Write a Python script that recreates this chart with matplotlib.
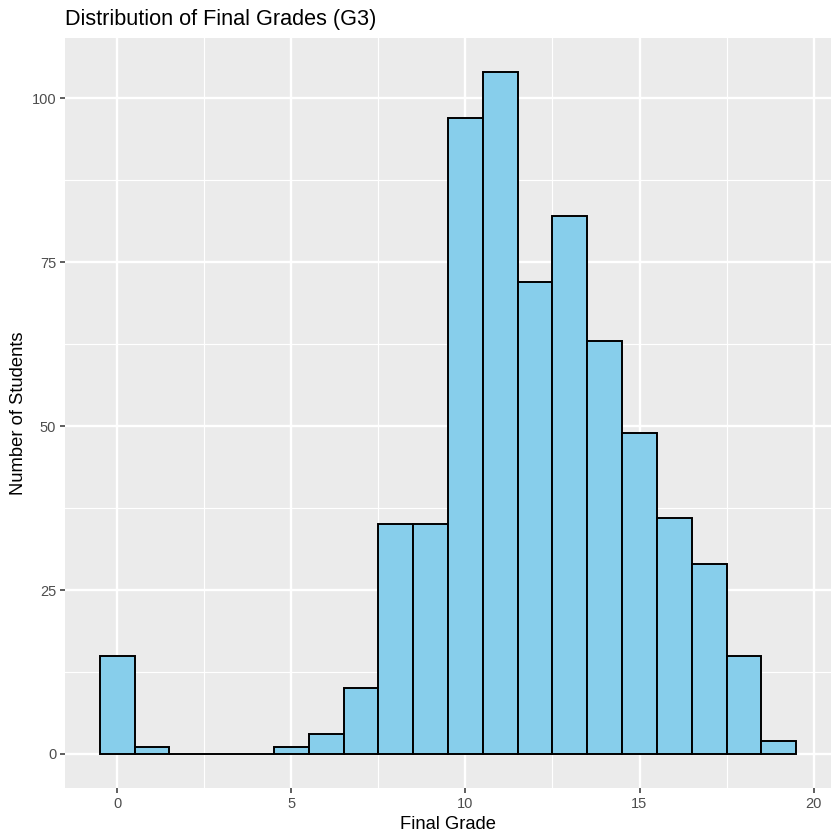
import numpy as np
import matplotlib
matplotlib.use("Agg")
from matplotlib import pyplot as plt

# G3 histogram counts, one bin per grade
grades = list(range(20))
counts = [15, 1, 0, 0, 0, 1, 3, 10, 35, 35, 97, 104, 72, 82, 63, 49, 36, 29, 15, 2]

plt.rcParams['font.family'] = ['Liberation Sans', 'DejaVu Sans']

fig = plt.figure(figsize=(8.4, 8.4), dpi=100)
ax = fig.add_axes([65/840, 52/840, 766/840, 750/840])
ax.set_facecolor('#EBEBEB')
for s in ax.spines.values():
    s.set_visible(False)

ax.set_xlim(-1.5, 20.5)
ax.set_ylim(-5.2, 109.2)
ax.set_xticks([0, 5, 10, 15, 20])
ax.set_yticks([0, 25, 50, 75, 100])
ax.set_xticks([2.5, 7.5, 12.5, 17.5], minor=True)
ax.set_yticks([12.5, 37.5, 62.5, 87.5], minor=True)
ax.grid(which='major', color='white', linewidth=1.7)
ax.grid(which='minor', color='white', linewidth=0.85)
ax.set_axisbelow(True)
ax.tick_params(which='major', length=3.3, width=1.1, color='#333333',
               labelcolor='#4D4D4D', labelsize=10.5, pad=3)
ax.tick_params(which='minor', length=0)

ax.bar(grades, counts, width=1, color='#87CEEB', edgecolor='black', linewidth=1.4)

ax.set_xlabel('Final Grade', fontsize=13.2, labelpad=4)
ax.set_ylabel('Number of Students', fontsize=13.2, labelpad=3)
ax.set_title('Distribution of Final Grades (G3)', fontsize=15.6, loc='left', pad=9)

fig.savefig('out.png', dpi=100)
